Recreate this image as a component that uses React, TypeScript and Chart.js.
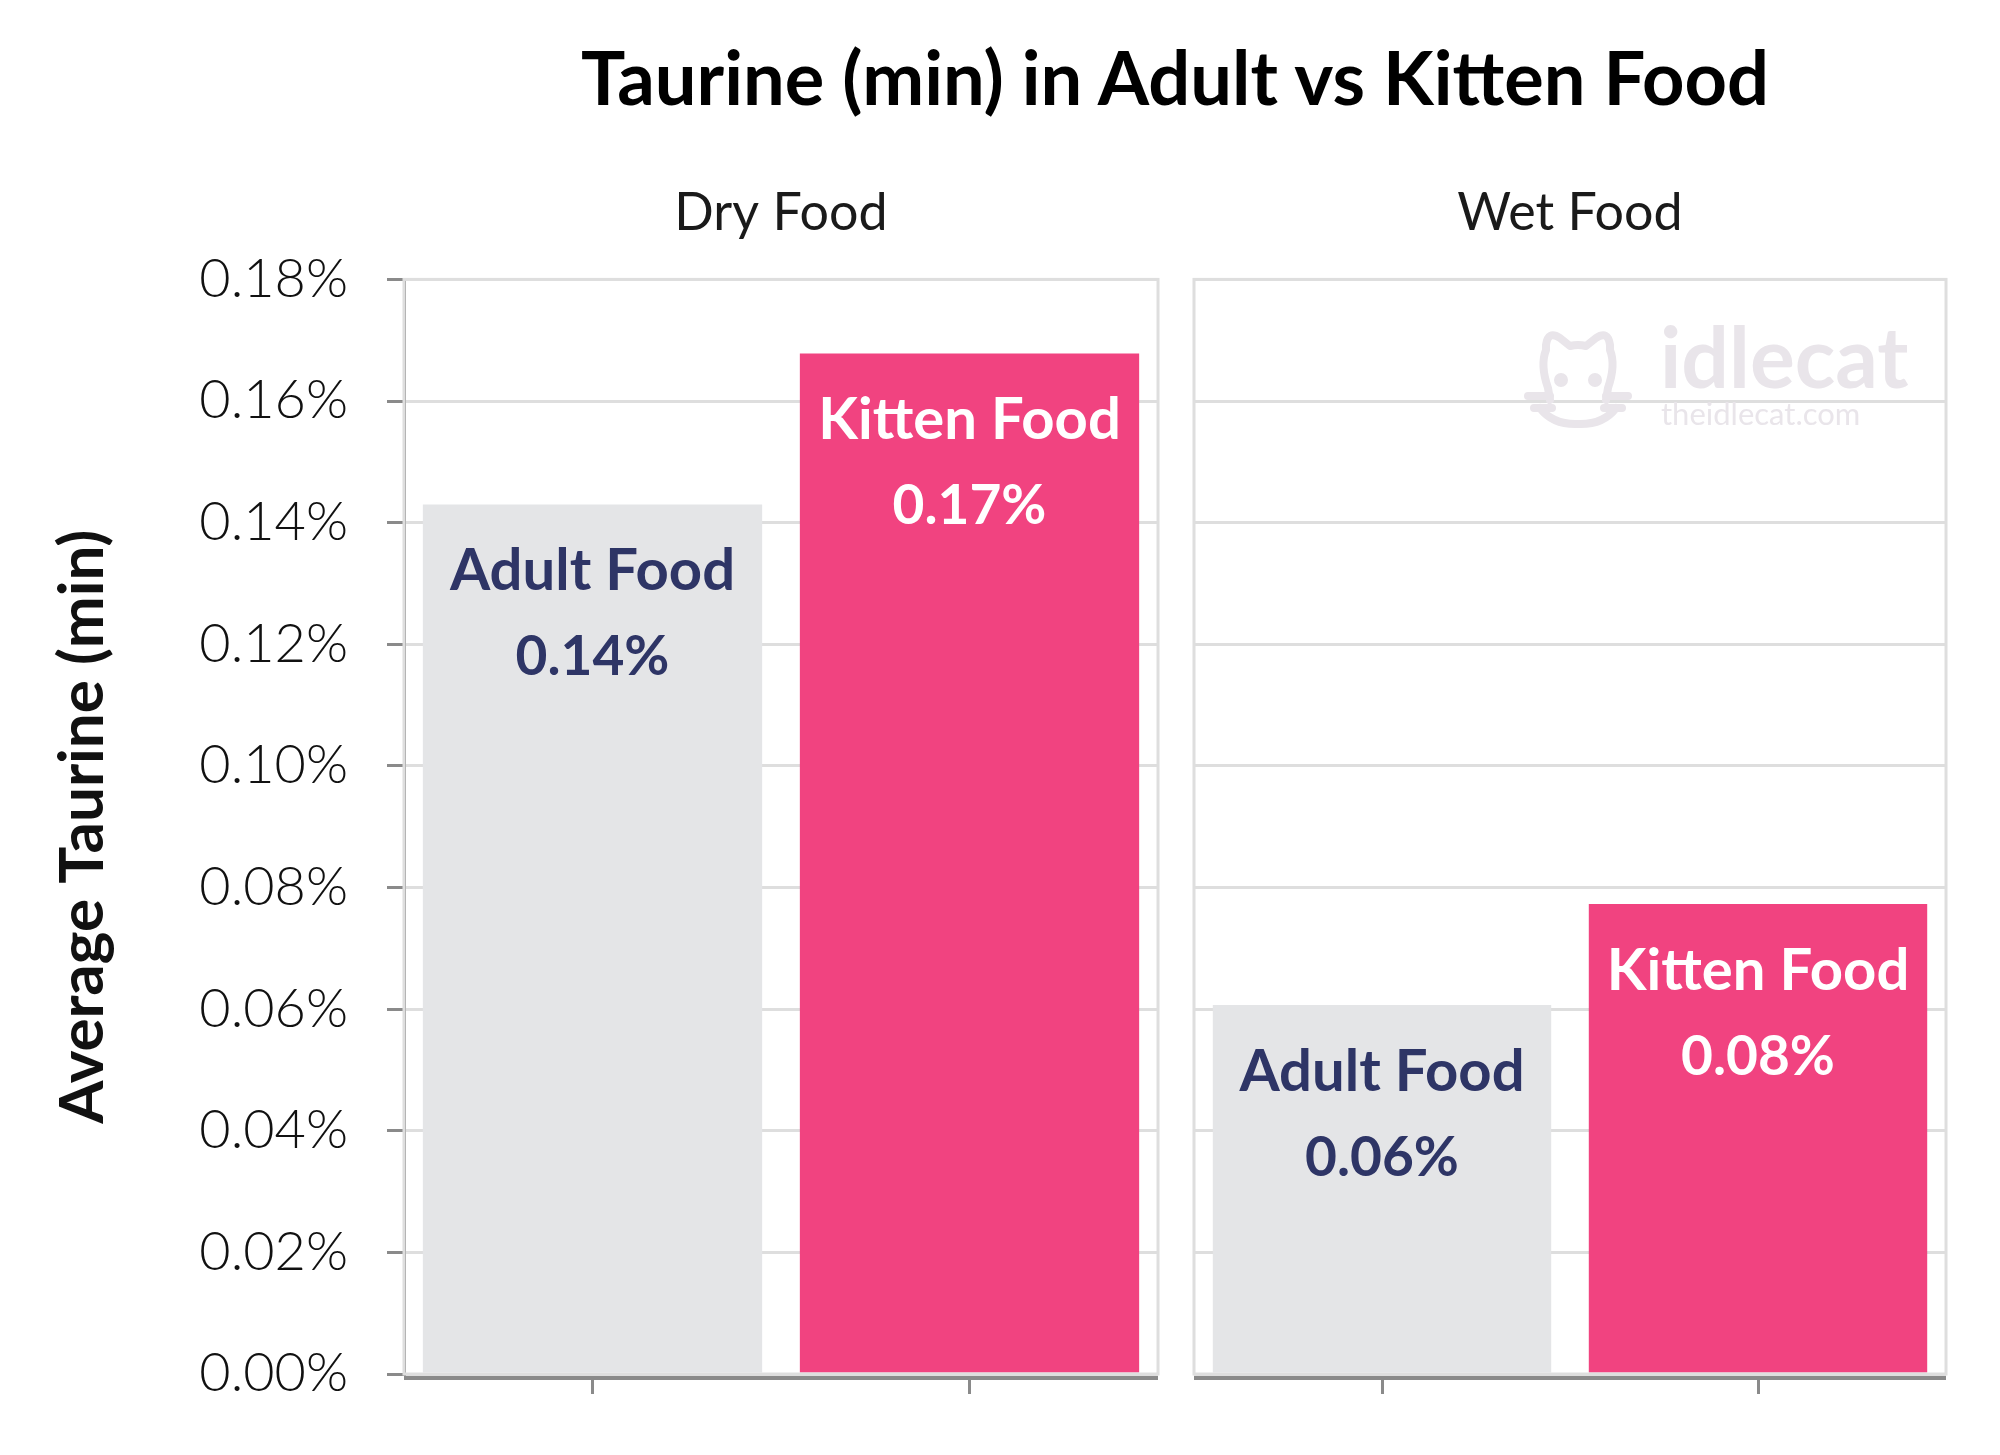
import React, { useEffect, useRef } from 'react';
import { Chart, registerables } from 'chart.js';

Chart.register(...registerables);

// ---- data ----
const chartTitle = 'Taurine (min) in Adult vs Kitten Food';
const panelTitles = ['Dry Food', 'Wet Food'];
const categories = ['Adult Food', 'Kitten Food'];
const dryValues = [0.143, 0.1678];
const wetValues = [0.0607, 0.0773];
const yAxisTitle = 'Average Taurine (min)';
const yMin = 0;
const yMax = 0.18;
const yStep = 0.02;

// ---- styles ----
const barColors = ['#e4e5e7', '#f14380'];
const labelColors = ['#2e3566', '#ffffff'];
const gridColor = '#dedede';
const axisColor = '#8a8a8a';
const FONT = 'Lato, "Open Sans", sans-serif';

const framePlugin = {
  id: 'framePlugin',
  afterDatasetsDraw(chart: any) {
    const { ctx, chartArea } = chart;
    const { left, top, right, bottom } = chartArea;
    ctx.save();
    ctx.strokeStyle = gridColor;
    ctx.lineWidth = 3;
    ctx.strokeRect(left, top, right - left, bottom - top);
    ctx.strokeStyle = axisColor;
    ctx.lineWidth = 4;
    ctx.beginPath();
    ctx.moveTo(left, bottom + 4);
    ctx.lineTo(right, bottom + 4);
    ctx.stroke();
    ctx.restore();
  },
};

const barLabelPlugin = {
  id: 'barLabelPlugin',
  afterDatasetsDraw(chart: any) {
    const { ctx } = chart;
    const meta = chart.getDatasetMeta(0);
    const data = chart.data.datasets[0].data as number[];
    meta.data.forEach((bar: any, i: number) => {
      ctx.save();
      ctx.fillStyle = labelColors[i];
      ctx.textAlign = 'center';
      ctx.textBaseline = 'middle';
      ctx.font = `bold 58px ${FONT}`;
      ctx.fillText(String(chart.data.labels[i]), bar.x, bar.y + 67);
      ctx.font = `bold 55px ${FONT}`;
      ctx.fillText(data[i].toFixed(2) + '%', bar.x, bar.y + 153);
      ctx.restore();
    });
  },
};

const watermarkPlugin = {
  id: 'watermarkPlugin',
  beforeDatasetsDraw(chart: any) {
    const { ctx, chartArea } = chart;
    const c = '#e9e5ea';
    const ox = chartArea.right - 421; // text start
    ctx.save();
    ctx.fillStyle = c;
    ctx.textBaseline = 'alphabetic';
    ctx.textAlign = 'left';
    ctx.font = `bold 84px ${FONT}`;
    ctx.fillText('idlecat', ox + 135, 388);
    ctx.font = `31px ${FONT}`;
    ctx.fillText('theidlecat.com', ox + 136, 425);
    // cat icon
    const cx = ox + 53;
    ctx.strokeStyle = c;
    ctx.lineWidth = 8;
    ctx.lineCap = 'round';
    ctx.lineJoin = 'round';
    ctx.beginPath();
    ctx.moveTo(cx - 28, 400);
    ctx.lineTo(cx - 30, 388);
    ctx.quadraticCurveTo(cx - 38, 365, cx - 32, 350);
    ctx.lineTo(cx - 32, 345);
    ctx.quadraticCurveTo(cx - 30, 330, cx - 18, 338);
    ctx.lineTo(cx - 8, 346);
    ctx.quadraticCurveTo(cx, 344, cx + 8, 346);
    ctx.lineTo(cx + 18, 338);
    ctx.quadraticCurveTo(cx + 30, 330, cx + 32, 345);
    ctx.lineTo(cx + 32, 350);
    ctx.quadraticCurveTo(cx + 38, 365, cx + 30, 388);
    ctx.lineTo(cx + 28, 400);
    ctx.stroke();
    ctx.beginPath();
    ctx.moveTo(cx - 50, 396);
    ctx.lineTo(cx - 28, 396);
    ctx.moveTo(cx + 28, 396);
    ctx.lineTo(cx + 50, 396);
    ctx.moveTo(cx - 44, 408);
    ctx.lineTo(cx - 26, 408);
    ctx.moveTo(cx + 26, 408);
    ctx.lineTo(cx + 44, 408);
    ctx.stroke();
    ctx.beginPath();
    ctx.moveTo(cx - 38, 408);
    ctx.quadraticCurveTo(cx - 25, 425, cx, 424);
    ctx.quadraticCurveTo(cx + 25, 425, cx + 38, 408);
    ctx.stroke();
    ctx.fillStyle = c;
    ctx.beginPath();
    ctx.arc(cx - 17, 380, 7, 0, Math.PI * 2);
    ctx.arc(cx + 17, 380, 7, 0, Math.PI * 2);
    ctx.fill();
    ctx.restore();
  },
};

function makeConfig(panel: string, values: number[], showY: boolean, padding: any, extra: any[]) {
  return {
    type: 'bar' as const,
    data: {
      labels: categories,
      datasets: [
        {
          data: values,
          backgroundColor: barColors,
          borderWidth: 0,
          barPercentage: 0.9,
          categoryPercentage: 1.0,
        },
      ],
    },
    plugins: [framePlugin, barLabelPlugin, ...extra],
    options: {
      responsive: false,
      animation: false as const,
      devicePixelRatio: 1,
      layout: { padding },
      plugins: {
        legend: { display: false },
        tooltip: { enabled: false },
        title: {
          display: true,
          text: panel,
          fullSize: false,
          color: '#1a1a1a',
          font: { family: FONT, size: 52, weight: 'normal' as const, lineHeight: 1.2 },
          padding: { top: 182, bottom: 35 },
        },
      },
      scales: {
        x: {
          grid: {
            offset: false,
            drawOnChartArea: false,
            drawTicks: true,
            tickLength: 20,
            tickColor: axisColor,
            tickWidth: 3,
          },
          border: { display: false },
          ticks: { display: false },
        },
        y: {
          min: yMin,
          max: yMax,
          afterFit: (scale: any) => {
            scale.width = showY ? 404 : 0;
          },
          grid: {
            color: gridColor,
            lineWidth: 3,
            drawTicks: showY,
            tickLength: 17,
            tickColor: axisColor,
            tickWidth: 3,
          },
          border: { display: showY, color: axisColor, width: 3 },
          ticks: {
            display: showY,
            stepSize: yStep,
            padding: 39,
            color: '#111111',
            font: { family: FONT, size: 54, weight: 300 as any },
            callback: (v: any) => Number(v).toFixed(2) + '%',
          },
          title: {
            display: showY,
            text: yAxisTitle,
            color: '#111111',
            font: { family: FONT, size: 62, weight: 'bold' as const, lineHeight: 1.2 },
            padding: { top: 46, bottom: 0 },
          },
        },
      },
    },
  };
}

export default function App() {
  const leftRef = useRef<HTMLCanvasElement>(null);
  const rightRef = useRef<HTMLCanvasElement>(null);

  useEffect(() => {
    const left = new Chart(
      leftRef.current as HTMLCanvasElement,
      makeConfig(panelTitles[0], dryValues, true, { left: 0, right: 18, top: 0, bottom: 61 }, []) as any
    );
    const right = new Chart(
      rightRef.current as HTMLCanvasElement,
      makeConfig(panelTitles[1], wetValues, false, { left: 18, right: 54, top: 0, bottom: 61 }, [watermarkPlugin]) as any
    );
    return () => {
      left.destroy();
      right.destroy();
    };
  }, []);

  return (
    <div style={{ position: 'absolute', left: 0, top: 0, width: 2000, height: 1455, background: '#ffffff', overflow: 'hidden' }}>
      <div
        style={{
          position: 'absolute',
          left: 375,
          top: 33,
          width: 1600,
          textAlign: 'center',
          fontFamily: FONT,
          fontWeight: 700,
          fontSize: 74,
          lineHeight: 1.2,
          color: '#000000',
          whiteSpace: 'nowrap',
        }}
      >
        {chartTitle}
      </div>
      <canvas
        ref={leftRef}
        width={1176}
        height={1455}
        style={{ position: 'absolute', left: 0, top: 0, width: 1176, height: 1455 }}
      />
      <canvas
        ref={rightRef}
        width={824}
        height={1455}
        style={{ position: 'absolute', left: 1176, top: 0, width: 824, height: 1455 }}
      />
    </div>
  );
}
